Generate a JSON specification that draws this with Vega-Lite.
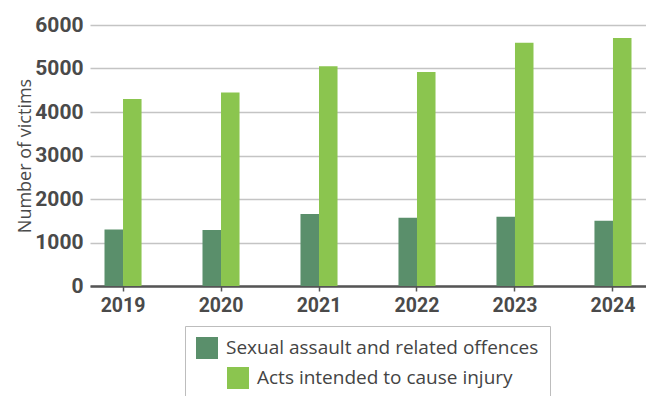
{
  "$schema": "https://vega.github.io/schema/vega-lite/v6.json",
  "width": 556,
  "height": 261,
  "autosize": {"type": "none"},
  "padding": {"left": 90, "top": 25, "right": 0, "bottom": 110},
  "background": "white",
  "config": {
    "view": {"stroke": null},
    "font": "Open Sans"
  },
  "data": {
    "values": [
      {"year": "2019", "series": "Sexual assault and related offences", "value": 1300},
      {"year": "2020", "series": "Sexual assault and related offences", "value": 1290},
      {"year": "2021", "series": "Sexual assault and related offences", "value": 1655},
      {"year": "2022", "series": "Sexual assault and related offences", "value": 1570},
      {"year": "2023", "series": "Sexual assault and related offences", "value": 1590},
      {"year": "2024", "series": "Sexual assault and related offences", "value": 1500},
      {"year": "2019", "series": "Acts intended to cause injury", "value": 4300},
      {"year": "2020", "series": "Acts intended to cause injury", "value": 4450},
      {"year": "2021", "series": "Acts intended to cause injury", "value": 5050},
      {"year": "2022", "series": "Acts intended to cause injury", "value": 4920},
      {"year": "2023", "series": "Acts intended to cause injury", "value": 5590},
      {"year": "2024", "series": "Acts intended to cause injury", "value": 5700}
    ]
  },
  "encoding": {
    "x": {
      "field": "year", "type": "nominal", "title": null,
      "scale": {"paddingInner": 0.622, "paddingOuter": 0.148},
      "axis": {
        "labelAngle": 0, "labelFont": "Roboto", "labelFontWeight": "bold", "labelFontSize": 19.5,
        "labelColor": "#4a4a4a", "labelPadding": 5,
        "domainColor": "#555555", "domainWidth": 2.5,
        "tickColor": "#555555", "tickSize": 5, "tickWidth": 1.5
      }
    },
    "xOffset": {
      "field": "series", "type": "nominal",
      "scale": {"domain": ["Sexual assault and related offences", "Acts intended to cause injury"], "paddingInner": 0, "paddingOuter": 0}
    },
    "y": {
      "field": "value", "type": "quantitative",
      "title": "Number of victims",
      "scale": {"domain": [0, 6000], "nice": false},
      "axis": {
        "values": [0, 1000, 2000, 3000, 4000, 5000, 6000],
        "format": "d",
        "domain": false, "ticks": false,
        "labelFont": "Roboto", "labelFontWeight": "bold", "labelFontSize": 21, "labelColor": "#4a4a4a",
        "labelPadding": 7,
        "gridColor": "#c4c4c4", "gridWidth": 1.5,
        "titleFont": "Open Sans", "titleFontWeight": "normal", "titleFontSize": 18, "titleColor": "#4a4a4a",
        "titlePadding": 0
      }
    }
  },
  "layer": [
    {
      "transform": [{"filter": "datum.series === 'Sexual assault and related offences'"}],
      "mark": {"type": "bar"},
      "encoding": {
        "color": {
          "field": "series", "type": "nominal",
          "scale": {"domain": ["Sexual assault and related offences"], "range": ["#5a8f6b"]},
          "legend": {
            "orient": "none", "legendX": 95, "legendY": 301,
            "padding": 11, "strokeColor": "#bdbdbd",
            "symbolType": "square", "symbolSize": 484, "symbolStrokeWidth": 0,
            "labelFontSize": 19, "labelColor": "#444444", "labelOffset": 8, "labelLimit": 400,
            "title": " ", "titleOrient": "bottom", "titleFontSize": 20, "titlePadding": 10
          }
        }
      }
    },
    {
      "transform": [{"filter": "datum.series === 'Acts intended to cause injury'"}],
      "mark": {"type": "bar"},
      "encoding": {
        "color": {
          "field": "series", "type": "nominal",
          "scale": {"domain": ["Acts intended to cause injury"], "range": ["#8bc54f"]},
          "legend": {
            "orient": "none", "legendX": 137, "legendY": 342,
            "padding": 0,
            "symbolType": "square", "symbolSize": 484, "symbolStrokeWidth": 0,
            "labelFontSize": 19, "labelColor": "#444444", "labelOffset": 8, "labelLimit": 400,
            "title": null
          }
        }
      }
    }
  ],
  "resolve": {"scale": {"color": "independent"}}
}
